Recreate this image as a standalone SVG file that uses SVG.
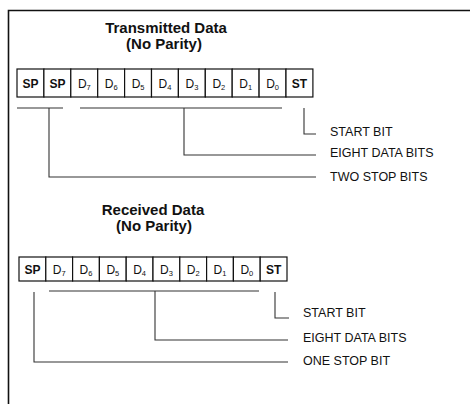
<svg xmlns="http://www.w3.org/2000/svg" width="473" height="404" viewBox="0 0 473 404">
<style>
.t{font-family:"Liberation Sans",Arial,sans-serif;font-weight:bold;font-size:15px;fill:#111;text-anchor:middle}
.lbl{font-family:"Liberation Sans",Arial,sans-serif;font-size:12.5px;fill:#111}
.c{fill:#fff;stroke:#111;stroke-width:1.2}
.ct{font-family:"Liberation Sans",Arial,sans-serif;font-size:12px;fill:#111;text-anchor:middle}
.b{font-weight:bold}
.sub{font-size:7.5px}
.ln{fill:none;stroke:#333;stroke-width:1.1}
.border{fill:none;stroke:#111;stroke-width:1.6}
</style>
<path class="border" d="M8.5,404 V10.5 H470"/>
<g id="title-tx"><text class="t" x="166" y="33">Transmitted Data</text><text class="t" x="164" y="49">(No Parity)</text></g>
<g id="row-tx">
<rect class="c" x="17" y="69" width="26.9" height="28"/><text class="ct b" x="30.5" y="88">SP</text>
<rect class="c" x="43.9" y="69" width="26.9" height="28"/><text class="ct b" x="57.4" y="88">SP</text>
<rect class="c" x="70.8" y="69" width="26.9" height="28"/><text class="ct" x="84.3" y="88">D<tspan class="sub" dy="2">7</tspan></text>
<rect class="c" x="97.7" y="69" width="26.9" height="28"/><text class="ct" x="111.2" y="88">D<tspan class="sub" dy="2">6</tspan></text>
<rect class="c" x="124.6" y="69" width="26.9" height="28"/><text class="ct" x="138.1" y="88">D<tspan class="sub" dy="2">5</tspan></text>
<rect class="c" x="151.5" y="69" width="26.9" height="28"/><text class="ct" x="165" y="88">D<tspan class="sub" dy="2">4</tspan></text>
<rect class="c" x="178.4" y="69" width="26.9" height="28"/><text class="ct" x="191.9" y="88">D<tspan class="sub" dy="2">3</tspan></text>
<rect class="c" x="205.3" y="69" width="26.9" height="28"/><text class="ct" x="218.8" y="88">D<tspan class="sub" dy="2">2</tspan></text>
<rect class="c" x="232.2" y="69" width="26.9" height="28"/><text class="ct" x="245.7" y="88">D<tspan class="sub" dy="2">1</tspan></text>
<rect class="c" x="259.1" y="69" width="26.9" height="28"/><text class="ct" x="272.6" y="88">D<tspan class="sub" dy="2">0</tspan></text>
<rect class="c" x="286" y="69" width="26.9" height="28"/><text class="ct b" x="299.5" y="88">ST</text>
</g>
<g id="connectors-tx">
<path class="ln" d="M17,108 H63"/>
<path class="ln" d="M80,108 H282"/>
<path class="ln" d="M49,108 V177 H316"/>
<path class="ln" d="M184,108 V155 H316"/>
<path class="ln" d="M304,108 V134 H316"/>
</g>
<g id="labels-tx">
<text class="lbl" x="330" y="136">START BIT</text>
<text class="lbl" x="330" y="157">EIGHT DATA BITS</text>
<text class="lbl" x="330" y="181">TWO STOP BITS</text>
</g>
<g id="title-rx"><text class="t" x="153" y="215">Received Data</text><text class="t" x="154" y="231">(No Parity)</text></g>
<g id="row-rx">
<rect class="c" x="19" y="257" width="26.8" height="24"/><text class="ct b" x="32.4" y="274">SP</text>
<rect class="c" x="45.8" y="257" width="26.8" height="24"/><text class="ct" x="59.2" y="274">D<tspan class="sub" dy="2">7</tspan></text>
<rect class="c" x="72.6" y="257" width="26.8" height="24"/><text class="ct" x="86" y="274">D<tspan class="sub" dy="2">6</tspan></text>
<rect class="c" x="99.4" y="257" width="26.8" height="24"/><text class="ct" x="112.8" y="274">D<tspan class="sub" dy="2">5</tspan></text>
<rect class="c" x="126.2" y="257" width="26.8" height="24"/><text class="ct" x="139.6" y="274">D<tspan class="sub" dy="2">4</tspan></text>
<rect class="c" x="153" y="257" width="26.8" height="24"/><text class="ct" x="166.4" y="274">D<tspan class="sub" dy="2">3</tspan></text>
<rect class="c" x="179.8" y="257" width="26.8" height="24"/><text class="ct" x="193.2" y="274">D<tspan class="sub" dy="2">2</tspan></text>
<rect class="c" x="206.6" y="257" width="26.8" height="24"/><text class="ct" x="220" y="274">D<tspan class="sub" dy="2">1</tspan></text>
<rect class="c" x="233.4" y="257" width="26.8" height="24"/><text class="ct" x="246.8" y="274">D<tspan class="sub" dy="2">0</tspan></text>
<rect class="c" x="260.2" y="257" width="26.8" height="24"/><text class="ct b" x="273.6" y="274">ST</text>
</g>
<g id="connectors-rx">
<path class="ln" d="M49,291 H259"/>
<path class="ln" d="M34,292 V362 H288"/>
<path class="ln" d="M155,291 V340 H288"/>
<path class="ln" d="M275,292 V318 H289"/>
</g>
<g id="labels-rx">
<text class="lbl" x="303" y="317">START BIT</text>
<text class="lbl" x="303" y="342">EIGHT DATA BITS</text>
<text class="lbl" x="303" y="365">ONE STOP BIT</text>
</g>
</svg>
